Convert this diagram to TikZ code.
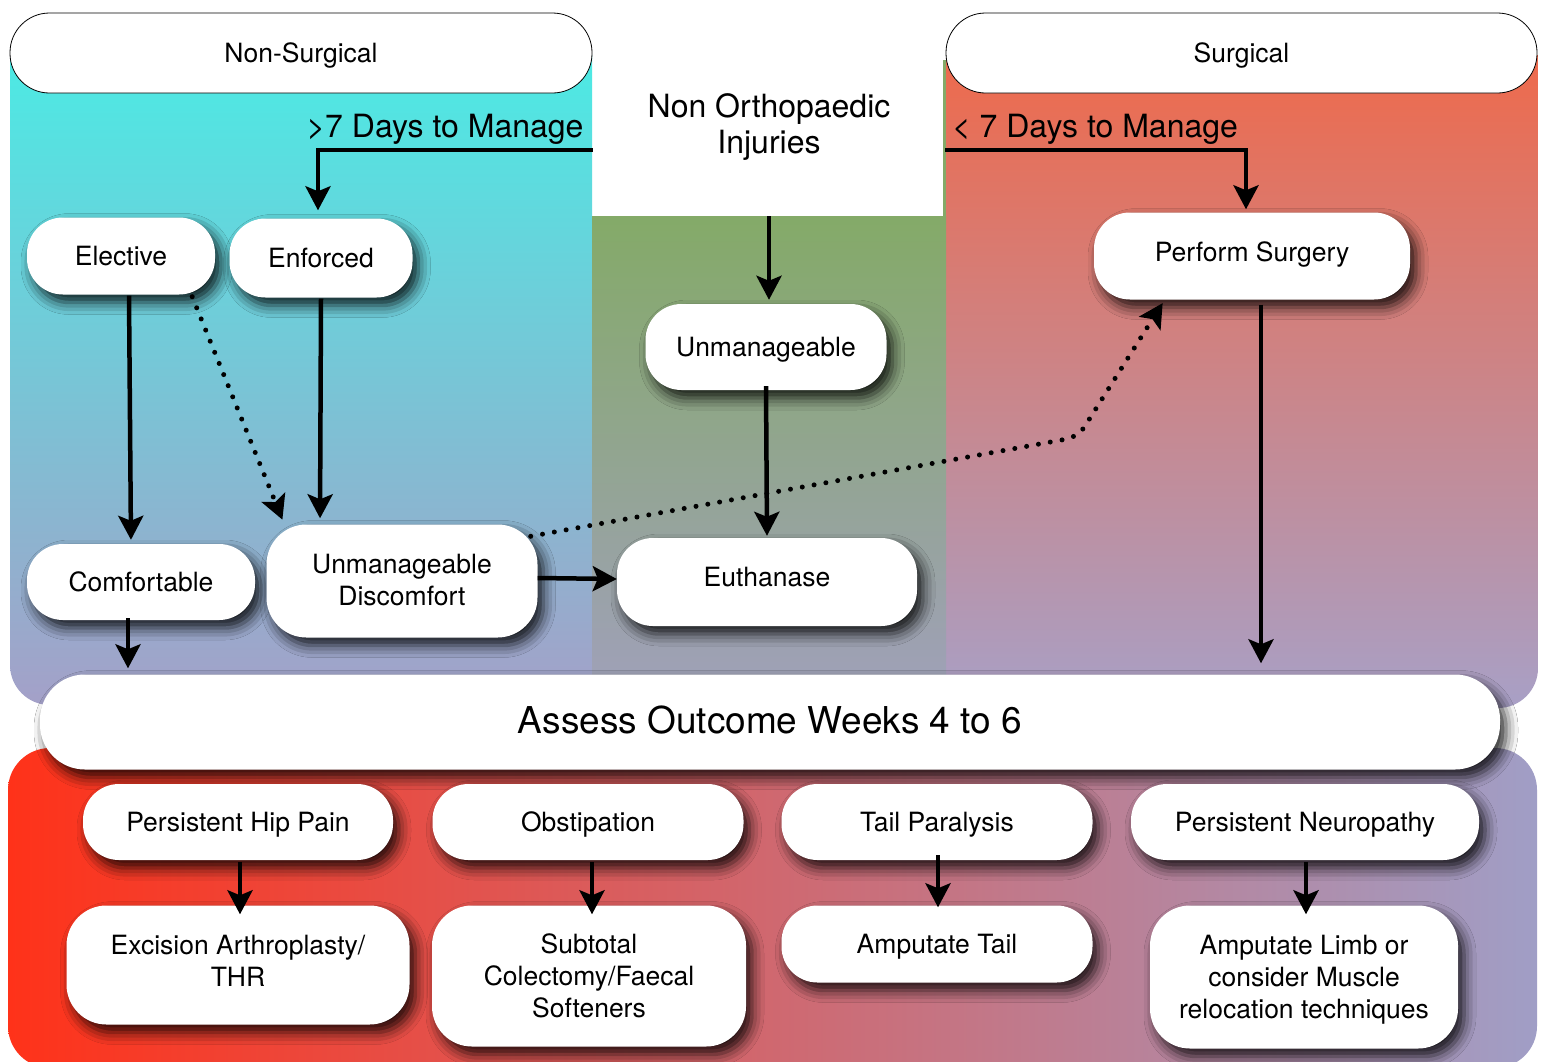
\documentclass[tikz,border=0pt]{standalone}
\usepackage{fontspec}
\setmainfont{TeX Gyre Heros}
\usetikzlibrary{arrows.meta,shadows.blur,calc}
\definecolor{ltop}{RGB}{76,234,228}
\definecolor{lbot}{RGB}{164,160,200}
\definecolor{mtop}{RGB}{132,170,104}
\definecolor{mbot}{RGB}{160,160,186}
\definecolor{rtop}{RGB}{238,106,76}
\definecolor{rbot}{RGB}{168,160,198}
\definecolor{bleft}{RGB}{255,50,25}
\definecolor{bmid}{RGB}{210,92,108}
\definecolor{bright}{RGB}{160,158,198}
\begin{document}
\begin{tikzpicture}[x=1pt,y=-1pt,
  box/.style={fill=white, rounded corners=36pt, align=center, inner sep=0pt,
    font=\fontsize{26.5}{32}\selectfont, text depth=0pt,
    blur shadow={shadow xshift=6pt, shadow yshift=-8pt, shadow blur radius=12pt, shadow opacity=85}},
  hdr/.style={draw=black, line width=0.8pt, fill=white, rounded corners=39.5pt, inner sep=0pt,
    font=\fontsize{26.5}{32}\selectfont, text depth=0pt},
  lbl/.style={inner sep=0pt, font=\fontsize{32}{36}\selectfont},
  arr/.style={line width=4.5pt, -{Stealth[length=24pt,width=25pt,inset=5pt]}},
  dotarr/.style={line width=5pt, line cap=round, dash pattern=on 0pt off 12pt,
    -{Stealth[length=24pt,width=25pt,inset=5pt]}}
]
\useasboundingbox (0,0) rectangle (1541,1061);
\fill[white] (0,0) rectangle (1541,1061);
\clip (0,0) rectangle (1541,1061);

% background panels
\shade[top color=ltop, bottom color=lbot] (10,55) -- (592,55) -- (592,705) -- (50,705)
  arc[start angle=90, end angle=180, radius=40] -- cycle;
\shade[top color=rtop, bottom color=rbot] (946,55) -- (1538,55) -- (1538,668)
  arc[start angle=0, end angle=90, radius=40] -- (946,708) -- cycle;
\fill[mtop] (943,60) rectangle (946,216);
\shade[top color=mtop, bottom color=mbot] (592,216) rectangle (946,700);
\shade[left color=bleft, middle color=bmid, right color=bright, rounded corners=42pt] (8,748) rectangle (1537,1068);

% headers
\node[hdr, minimum width=582pt, minimum height=80pt] (nonsurg) at (301,53) {Non-Surgical};
\node[hdr, minimum width=591pt, minimum height=80pt] (surg) at (1241.5,53) {Surgical};

% top text
\node[inner sep=0pt, minimum width=352pt, minimum height=178pt, align=center,
  font=\fontsize{32}{36}\selectfont] (noi) at (769,127) {Non Orthopaedic\\Injuries};
\node[lbl, anchor=base] (lblL) at (445,137) {>7 Days to Manage};
\node[lbl, anchor=base] (lblR) at (1095,137) {< 7 Days to Manage};

% nodes
\node[box, minimum width=188pt, minimum height=77pt] (elective) at (121,256) {Elective};
\node[box, minimum width=183pt, minimum height=79pt] (enforced) at (321,258) {Enforced};
\node[box, minimum width=228pt, minimum height=76pt] (comf) at (141,582) {Comfortable};
\node[box, minimum width=271pt, minimum height=113pt, rounded corners=40pt, text depth=2pt] (ud) at (402,581) {Unmanageable\\Discomfort};
\node[box, minimum width=241pt, minimum height=86pt] (unman) at (766,347) {Unmanageable};
\node[box, minimum width=300pt, minimum height=88pt, text depth=10pt] (euth) at (767,582) {Euthanase};
\node[box, minimum width=316pt, minimum height=87pt, text depth=9pt] (perf) at (1252,256) {Perform Surgery};

\node[box, minimum width=1460pt, minimum height=95pt, rounded corners=45pt, text depth=4pt,
  font=\fontsize{37}{42}\selectfont] (assess) at (770,722) {Assess Outcome Weeks 4 to 6};

\node[box, minimum width=310pt, minimum height=76pt] (hip) at (238,822) {Persistent Hip Pain};
\node[box, minimum width=311pt, minimum height=76pt] (obst) at (588,822) {Obstipation};
\node[box, minimum width=311pt, minimum height=76pt] (tail) at (937,822) {Tail Paralysis};
\node[box, minimum width=348pt, minimum height=76pt] (neuro) at (1305,822) {Persistent Neuropathy};

\node[box, minimum width=343pt, minimum height=119pt, rounded corners=40pt, text depth=8pt] (exc) at (238,965) {Excision Arthroplasty/\\THR};
\node[box, minimum width=314pt, minimum height=141pt, rounded corners=40pt, text depth=0pt] (subt) at (589,976) {Subtotal\\Colectomy/Faecal\\Softeners};
\node[box, minimum width=311pt, minimum height=77pt] (amtail) at (937,944) {Amputate Tail};
\node[box, minimum width=308pt, minimum height=143pt, rounded corners=40pt, text depth=0pt] (amlimb) at (1304,977) {Amputate Limb or\\consider Muscle\\relocation techniques};

% connectors
\draw[arr, shorten >=8pt] ([yshift=-23pt]noi.west) -| ([xshift=-3pt]enforced.north);
\draw[arr, shorten >=3pt] ([yshift=-23pt]noi.east) -| ([xshift=-6pt]perf.north);
\draw[arr, shorten >=4pt] (noi.south) -- (noi.south |- unman.north);
\draw[arr, shorten >=2pt] ([yshift=4pt]unman.south) -- (euth.north);
\draw[arr, shorten >=4pt] ([xshift=8pt,yshift=-1pt]elective.south) -- ([xshift=-10pt]comf.north);
\draw[arr, shorten >=6pt] ([yshift=-1pt]enforced.south) -- ([xshift=-82pt]ud.north);
\draw[dotarr, shorten >=5pt] ([xshift=-23pt,yshift=-2pt]elective.south east) -- ([xshift=18pt]ud.north west);
\draw[arr] ([yshift=3pt]ud.east) -- ([yshift=3pt]euth.west);
\coordinate (bend) at (1078,437);
\draw[dotarr, shorten >=4pt, rounded corners=12pt] ([xshift=-7pt,yshift=-12pt]ud.north east) -- (bend) -- ([xshift=71pt]perf.south west);
\draw[arr, shorten >=6pt] ([xshift=-13pt,yshift=2pt]comf.south) -- ([xshift=-13pt]comf.south |- assess.north);
\draw[arr, shorten >=11pt] ([xshift=9pt,yshift=-5pt]perf.south) -- ([xshift=9pt]perf.south |- assess.north);
\draw[arr, shorten >=-9pt] ([xshift=2pt,yshift=-2pt]hip.south) -- ([xshift=2pt]exc.north);
\draw[arr, shorten >=-9pt] ([xshift=4pt,yshift=-2pt]obst.south) -- ([xshift=3pt]subt.north);
\draw[arr, shorten >=-2pt] ([xshift=1pt,yshift=5pt]tail.south) -- ([xshift=1pt]amtail.north);
\draw[arr, shorten >=-9pt] ([xshift=1pt,yshift=-2pt]neuro.south) -- ([xshift=2pt]amlimb.north);
\end{tikzpicture}
\end{document}
